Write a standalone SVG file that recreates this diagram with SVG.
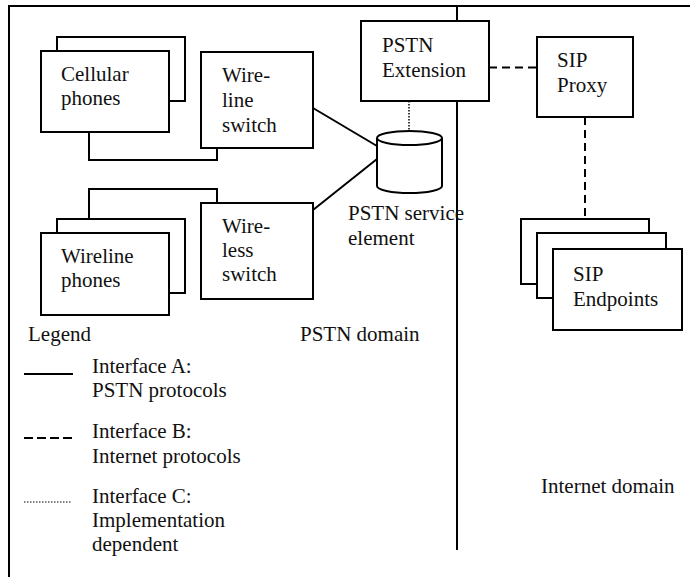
<svg xmlns="http://www.w3.org/2000/svg" width="690" height="577" viewBox="0 0 690 577">
<style>
text{font-family:'Liberation Serif','Times New Roman',Times,'DejaVu Serif',serif;font-size:21px;fill:#111}
.box{fill:#fff;stroke:#000;stroke-width:2}
.solid{fill:none;stroke:#000;stroke-width:2}
.dash{fill:none;stroke:#000;stroke-width:2;stroke-dasharray:8,5}
.dot{fill:none;stroke:#000;stroke-width:1.5;stroke-dasharray:1.5,1.5}
</style>
<rect width="690" height="577" fill="#fff"/>
<g id="frame">
<path class="solid" d="M9,577 V6 H690"/>
<path class="solid" d="M457,6 V550"/>
</g>
<g id="connectors">
<path class="solid" d="M89,132 V160 H217 V148"/>
<path class="solid" d="M89,219 V189 H217 V203"/>
<path class="solid" d="M313,108 L377,146"/>
<path class="solid" d="M313,210 L377,159"/>
<path class="dot" d="M409,101 V131"/>
<path class="dash" d="M489,67.5 H537"/>
<path class="dash" d="M585,117 V222"/>
</g>
<g id="cellular">
<rect class="box" x="57" y="37" width="128" height="64"/>
<rect class="box" x="41" y="51" width="128" height="81"/>
<text x="61" y="81">Cellular</text>
<text x="61" y="105">phones</text>
</g>
<g id="wireline-switch">
<rect class="box" x="201" y="52" width="112" height="96"/>
<text x="222" y="82">Wire-</text>
<text x="222" y="107">line</text>
<text x="222" y="132">switch</text>
</g>
<g id="wireline-phones">
<rect class="box" x="57" y="219" width="128" height="74"/>
<rect class="box" x="41" y="233" width="128" height="82"/>
<text x="61" y="263">Wireline</text>
<text x="61" y="287">phones</text>
</g>
<g id="wireless-switch">
<rect class="box" x="201" y="203" width="112" height="96"/>
<text x="222" y="233">Wire-</text>
<text x="222" y="257">less</text>
<text x="222" y="281">switch</text>
</g>
<g id="pstn-extension">
<rect class="box" x="361" y="21" width="128" height="80"/>
<text x="382" y="52">PSTN</text>
<text x="382" y="77">Extension</text>
</g>
<g id="pstn-service-element">
<path class="box" d="M377,138 V186 A32.5,7 0 0 0 442,186 V138"/>
<ellipse class="box" cx="409.5" cy="138" rx="32.5" ry="7"/>
<text x="348" y="220">PSTN service</text>
<text x="348" y="245">element</text>
</g>
<g id="sip-proxy">
<rect class="box" x="537" y="37" width="96" height="80"/>
<text x="557" y="67">SIP</text>
<text x="557" y="92">Proxy</text>
</g>
<g id="sip-endpoints">
<rect class="box" x="521" y="219" width="128" height="65"/>
<rect class="box" x="537" y="233" width="129" height="65"/>
<rect class="box" x="553" y="249" width="129" height="81"/>
<text x="573" y="281">SIP</text>
<text x="573" y="306">Endpoints</text>
</g>
<g id="legend">
<text x="28" y="341">Legend</text>
<path class="solid" d="M24,374 H73"/>
<text x="92" y="373">Interface A:</text>
<text x="92" y="397">PSTN protocols</text>
<path class="dash" d="M24,438 H73" style="stroke-dasharray:9,4"/>
<text x="92" y="438">Interface B:</text>
<text x="92" y="463">Internet protocols</text>
<path class="dot" d="M24,502 H72" style="stroke-width:1"/>
<text x="92" y="503">Interface C:</text>
<text x="92" y="527">Implementation</text>
<text x="92" y="551">dependent</text>
</g>
<g id="domains">
<text x="300" y="341">PSTN domain</text>
<text x="541" y="493">Internet domain</text>
</g>
</svg>
